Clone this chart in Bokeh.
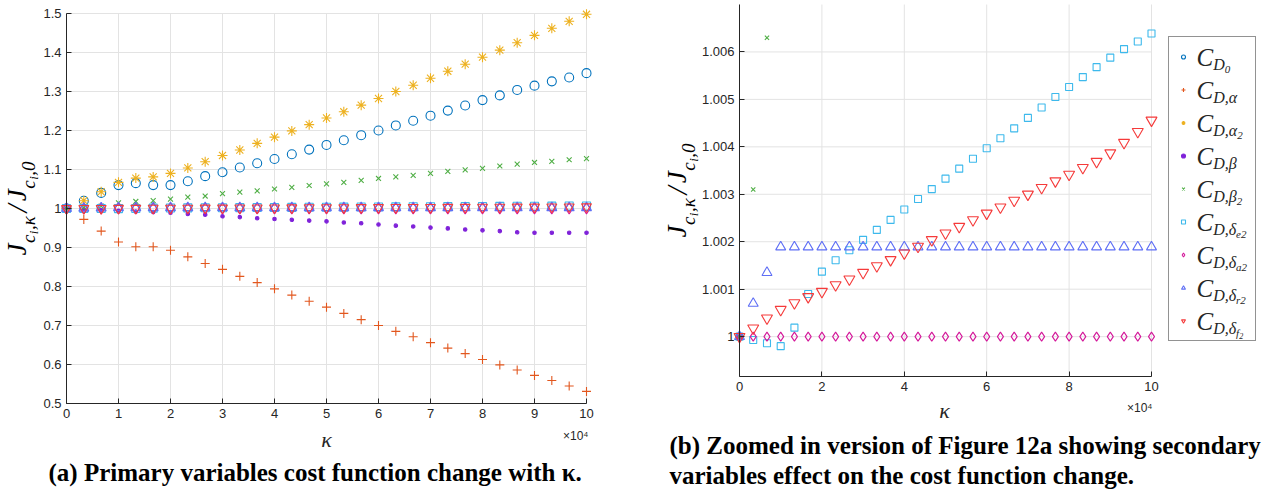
import math
from bokeh.plotting import figure
from bokeh.layouts import row
from bokeh.models import (Label, Legend, LegendItem, FixedTicker, Range1d, ColumnDataSource,
                          CDSView, BooleanFilter)
from bokeh.embed import file_html
from bokeh.resources import INLINE

# ---------------- data ----------------
kappa = [0, 0.333, 0.667, 1, 1.333, 1.667, 2, 2.333, 2.667, 3, 3.333, 3.667, 4, 4.333, 4.667,
         5, 5.333, 5.667, 6, 6.333, 6.667, 7, 7.333, 7.667, 8, 8.333, 8.667, 9, 9.333, 9.667, 10]

CD0 = [1.000, 1.020, 1.040, 1.060, 1.065, 1.060, 1.060, 1.070, 1.083, 1.093, 1.105, 1.116, 1.127, 1.139, 1.151,
       1.163, 1.175, 1.188, 1.200, 1.213, 1.225, 1.238, 1.251, 1.264, 1.278, 1.290, 1.304, 1.315, 1.326, 1.336, 1.347]
CDalpha = [1.000, 0.972, 0.942, 0.914, 0.902, 0.902, 0.893, 0.876, 0.859, 0.844, 0.826, 0.810, 0.794, 0.778, 0.762,
           0.747, 0.731, 0.715, 0.700, 0.685, 0.671, 0.656, 0.642, 0.628, 0.613, 0.599, 0.586, 0.572, 0.559, 0.545, 0.531]
CDalpha2 = [1.000, 1.020, 1.043, 1.067, 1.078, 1.081, 1.090, 1.104, 1.120, 1.136, 1.150, 1.167, 1.183, 1.199, 1.215,
            1.232, 1.248, 1.265, 1.282, 1.300, 1.316, 1.334, 1.352, 1.370, 1.388, 1.406, 1.425, 1.444, 1.462, 1.480, 1.498]
CDbeta = [1.000, 0.998, 0.996, 0.994, 0.992, 0.991, 0.989, 0.986, 0.984, 0.980, 0.978, 0.975, 0.973, 0.971, 0.969,
          0.967, 0.964, 0.962, 0.959, 0.956, 0.954, 0.951, 0.949, 0.946, 0.944, 0.942, 0.939, 0.938, 0.938, 0.938, 0.938]
CDbeta2 = [1.000, 1.0031, 1.0063, 1.0145, 1.018, 1.020, 1.024, 1.029, 1.032, 1.038, 1.042, 1.045, 1.050, 1.054, 1.059,
           1.063, 1.067, 1.072, 1.077, 1.081, 1.085, 1.090, 1.095, 1.099, 1.103, 1.109, 1.114, 1.118, 1.121, 1.125, 1.128]
CDde2 = [1.0, 0.99993, 0.99986, 0.9998, 1.00019, 1.0009, 1.00137, 1.00161, 1.00182, 1.00204, 1.00225, 1.00246,
         1.00268, 1.0029, 1.00311, 1.00333, 1.00354, 1.00375, 1.00397, 1.00418, 1.00439, 1.00461, 1.00483,
         1.00505, 1.00526, 1.00547, 1.00568, 1.00588, 1.00606, 1.00622, 1.00639]
CDda2 = [1.0, 1.0, 1.0, 1.0, 1.0, 1.0, 1.0, 1.0, 1.0, 1.0, 1.0, 1.0, 1.0, 1.0, 1.0, 1.0,
         1.0, 1.0, 1.0, 1.0, 1.0, 1.0, 1.0, 1.0, 1.0, 1.0, 1.0, 1.0, 1.0, 1.0, 1.0]
CDdr2 = [1.0, 1.0007, 1.00135, 1.00189, 1.00189, 1.00189, 1.00189, 1.00189, 1.00189, 1.00189, 1.00189,
         1.00189, 1.00189, 1.00189, 1.00189, 1.00189, 1.00189, 1.00189, 1.00189, 1.00189, 1.00189,
         1.00189, 1.00189, 1.00189, 1.00189, 1.00189, 1.00189, 1.00189, 1.00189, 1.00189, 1.00189]
CDdf2 = [1.0, 1.00018, 1.00039, 1.00057, 1.00071, 1.00084, 1.00095, 1.00109, 1.00121, 1.00135, 1.00149,
         1.00162, 1.00176, 1.0019, 1.00204, 1.00218, 1.00232, 1.00246, 1.0026, 1.00273, 1.00287, 1.003,
         1.00314, 1.00328, 1.00342, 1.00356, 1.00369, 1.00387, 1.00409, 1.00432, 1.00456]

series_keys = ["CD0", "CDalpha", "CDalpha2", "CDbeta", "CDbeta2", "CDde2", "CDda2", "CDdr2", "CDdf2"]
series_vals = [CD0, CDalpha, CDalpha2, CDbeta, CDbeta2, CDde2, CDda2, CDdr2, CDdf2]

# legend label pieces: (main, subscript, sub-subscript, sub-sub-subscript)
legend_labels = [("C", "D", "0", ""), ("C", "D,α", "", ""), ("C", "D,α", "2", ""), ("C", "D,β", "", ""),
                 ("C", "D,β", "2", ""), ("C", "D,δ", "e2", ""), ("C", "D,δ", "a2", ""),
                 ("C", "D,δ", "r2", ""), ("C", "D,δ", "f", "2")]

left_xlim = (0, 10)
left_ylim = (0.5, 1.5)
left_xticks = [0, 1, 2, 3, 4, 5, 6, 7, 8, 9, 10]
left_xtick_labels = ["0", "1", "2", "3", "4", "5", "6", "7", "8", "9", "10"]
left_yticks = [0.5, 0.6, 0.7, 0.8, 0.9, 1.0, 1.1, 1.2, 1.3, 1.4, 1.5]
left_ytick_labels = ["0.5", "0.6", "0.7", "0.8", "0.9", "1", "1.1", "1.2", "1.3", "1.4", "1.5"]
right_xlim = (0, 10)
right_ylim = (0.99916, 1.007)
right_xticks = [0, 2, 4, 6, 8, 10]
right_xtick_labels = ["0", "2", "4", "6", "8", "10"]
right_yticks = [1.0, 1.001, 1.002, 1.003, 1.004, 1.005, 1.006]
right_ytick_labels = ["1", "1.001", "1.002", "1.003", "1.004", "1.005", "1.006"]

caption_a = "(a) Primary variables cost function change with κ."
caption_b1 = "(b) Zoomed in version of Figure 12a showing secondary"
caption_b2 = "variables effect on the cost function change."

# ---------------- styles ----------------
colors = ["#0072BD", "#E2571E", "#EDB120", "#7F22D9", "#4FAE45", "#3DB9EC", "#D4189A", "#5F6FF5", "#F53A3A"]
markers = ["circle", "cross", "asterisk", "circle", "x", "square", "diamond", "triangle", "inverted_triangle"]
filled = [False, False, False, True, False, False, False, False, False]
size_left = [9, 9, 10, 3.5, 7, 8, 11, 10, 10]
size_right = [7, 7, 7, 3.5, 6, 7, 9, 10, 11]

AX = "#262626"
GRID = "#e3e3e3"
SERIF = "Liberation Serif"
SANS = "Liberation Sans"
PAGE_H = 493
MID = 0.34   # distance (em) from the alphabetic baseline up to Bokeh's "middle" text baseline

CW = {"C": .667, "D": .722, "J": .444, "c": .444, "i": .278, ",": .25, "/": .278, "e": .444, "a": .5,
      "r": .389, "f": .278, "α": .53, "β": .5, "δ": .46, "κ": .5}


def tw(s, size):
    return sum(CW.get(ch, .5) for ch in s) * size


def make_fig(ox, width, box, xlim, ylim, xt, xtl, yt, ytl, sizes):
    """Figure whose frame covers the whole canvas; the axes box (page px) is placed via the ranges."""
    left, right, top, bottom = box
    sx = (right - left) / (xlim[1] - xlim[0])
    sy = (bottom - top) / (ylim[1] - ylim[0])
    xr = Range1d(xlim[0] - (left - ox) / sx, xlim[1] + (ox + width - right) / sx)
    yr = Range1d(ylim[0] - (PAGE_H - bottom) / sy, ylim[1] + top / sy)
    p = figure(width=width, height=PAGE_H, x_range=xr, y_range=yr, output_backend="svg",
               toolbar_location=None, min_border_left=0, min_border_right=0, min_border_top=0,
               min_border_bottom=0)
    p.frame_align = False
    p.outline_line_color = None
    p.background_fill_color = "white"
    p.border_fill_color = "white"
    p.xgrid.grid_line_color = None
    p.ygrid.grid_line_color = None
    p.segment(x0=xt, x1=xt, y0=[ylim[0]] * len(xt), y1=[ylim[1]] * len(xt), line_color=GRID, line_width=1)
    p.segment(x0=[xlim[0]] * len(yt), x1=[xlim[1]] * len(yt), y0=yt, y1=yt, line_color=GRID, line_width=1)
    p.xaxis.fixed_location = ylim[0]
    p.yaxis.fixed_location = xlim[0]
    p.xaxis.bounds = xlim
    p.yaxis.bounds = ylim
    p.xaxis.ticker = FixedTicker(ticks=xt)
    p.yaxis.ticker = FixedTicker(ticks=yt)
    p.xaxis.major_label_overrides = {t: l for t, l in zip(xt, xtl)}
    p.yaxis.major_label_overrides = {t: l for t, l in zip(yt, ytl)}
    for ax in (p.xaxis, p.yaxis):
        ax.axis_line_color = AX
        ax.axis_line_width = 1
        ax.major_tick_line_color = AX
        ax.major_tick_in = 5
        ax.major_tick_out = 0
        ax.minor_tick_line_color = None
        ax.major_label_text_font = SANS
        ax.major_label_text_font_size = "13px"
        ax.major_label_text_color = AX
    p.xaxis.major_label_standoff = 5
    p.yaxis.major_label_standoff = 5
    src = ColumnDataSource(dict(k=kappa, **{k: v for k, v in zip(series_keys, series_vals)}))
    rends = []
    for key, vals, col, m, f, s in zip(series_keys, series_vals, colors, markers, filled, sizes):
        keep = [ylim[0] <= v <= ylim[1] for v in vals]   # only what lies inside the axes box
        r = p.scatter(x="k", y=key, source=src, view=CDSView(filter=BooleanFilter(booleans=keep)),
                      marker=m, size=s, line_color=col, fill_color=col if f else None, line_width=1.1)
        rends.append(r)
    return p, rends


def lab(p, ox, px, py, text, size, font=SERIF, style="italic", color="black", align="left",
        angle=0.0, level="annotation"):
    """Text whose alphabetic baseline starts at page pixel (px, py); canvas starts at page x = ox."""
    if angle == 0.0:
        py = py - MID * size
    else:
        px = px - MID * size
    p.add_layout(Label(x=px - ox, y=PAGE_H - py, x_units="screen", y_units="screen", text=text,
                       angle=angle, text_font=font, text_font_style=style, text_font_size=f"{size}px",
                       text_color=color, text_align=align, text_baseline="middle", level=level))


def add_runs_h(p, ox, px, py, runs, color="black", level="annotation"):
    x = px
    for txt, size, shift in runs:
        if txt:
            lab(p, ox, x, py + shift, txt, size, color=color, level=level)
            x += tw(txt, size)


def add_runs_v(p, ox, pxb, pycenter, runs, color="black"):
    total = sum(tw(t, s) + g for t, s, sh, g in runs)
    y = pycenter + total / 2
    for txt, size, shift, gap in runs:
        y -= gap / 2
        lab(p, ox, pxb + shift, y, txt, size, color=color, angle=math.pi / 2)
        y -= tw(txt, size) + gap / 2


def ylabel_runs():
    M, S, SS = 27, 19, 13
    return [("J", M, 0, 0.5), ("c", S, 8, 0.5), ("i", SS, 11, 0.5), (",κ", S, 8, 0.5), ("/", M + 2, 0, 6),
            ("J", M, 0, 0.5), ("c", S, 8, 0.5), ("i", SS, 11, 0.5), (",0", S, 8, 0.5)]


# ---------------- left figure ----------------
L_OX, L_W = 0, 650
L_BOX = (66, 586, 13, 403)
p1, _ = make_fig(L_OX, L_W, L_BOX, left_xlim, left_ylim, left_xticks, left_xtick_labels,
                 left_yticks, left_ytick_labels, size_left)

add_runs_v(p1, L_OX, 26, (L_BOX[2] + L_BOX[3]) / 2, ylabel_runs())
lab(p1, L_OX, 326, 446, "κ", 22, color=AX, align="center")
lab(p1, L_OX, 588, 440, "×10⁴", 12, font=SANS, style="normal", color=AX, align="right")
lab(p1, L_OX, 48, 480, caption_a, 25, style="bold")

# ---------------- right figure ----------------
R_OX, R_W = 650, 613
R_BOX = (739, 1151, 4, 376)
p2, rends = make_fig(R_OX, R_W, R_BOX, right_xlim, right_ylim, right_xticks, right_xtick_labels,
                     right_yticks, right_ytick_labels, size_right)

add_runs_v(p2, R_OX, 686, (R_BOX[2] + R_BOX[3]) / 2, ylabel_runs())
lab(p2, R_OX, 944, 417, "κ", 22, color=AX, align="center")
lab(p2, R_OX, 1152, 412, "×10⁴", 12, font=SANS, style="normal", color=AX, align="right")
lab(p2, R_OX, 669, 453, caption_b1, 25, style="bold")
lab(p2, R_OX, 669, 483, caption_b2, 25, style="bold")

# legend (markers + box)
LG_PAD, LG_SP, LG_H = 9, 12, 21
LG_LEFT, LG_BOTTOM = 1168, 341          # page px
n = len(legend_labels)
LG_HEIGHT = 2 * LG_PAD + n * LG_H + (n - 1) * LG_SP
legend = Legend(items=[LegendItem(label=" ", renderers=[r]) for r in rends],
                location=(LG_LEFT - R_OX, PAGE_H - LG_BOTTOM), padding=LG_PAD, spacing=LG_SP,
                glyph_height=LG_H, glyph_width=10, label_height=LG_H, label_width=53, label_standoff=5,
                margin=0, border_line_color=AX, border_line_width=1, background_fill_color="white",
                background_fill_alpha=0.0, label_text_font_size="12px")
p2.add_layout(legend)

# legend text, composed of italic pieces with subscripts (drawn above the legend)
LG_TOP = LG_BOTTOM - LG_HEIGHT
for i, (m, s1, s2, s3) in enumerate(legend_labels):
    yc = LG_TOP + LG_PAD + LG_H / 2 + i * (LG_H + LG_SP)
    add_runs_h(p2, R_OX, 1196, yc + 8, [(m, 25, 0), (s1, 16, 4), (s2, 11, 7), (s3, 8, 9)],
               color=AX, level="overlay")

layout = row(p1, p2)
open("out.html", "w").write(file_html(layout, INLINE))
